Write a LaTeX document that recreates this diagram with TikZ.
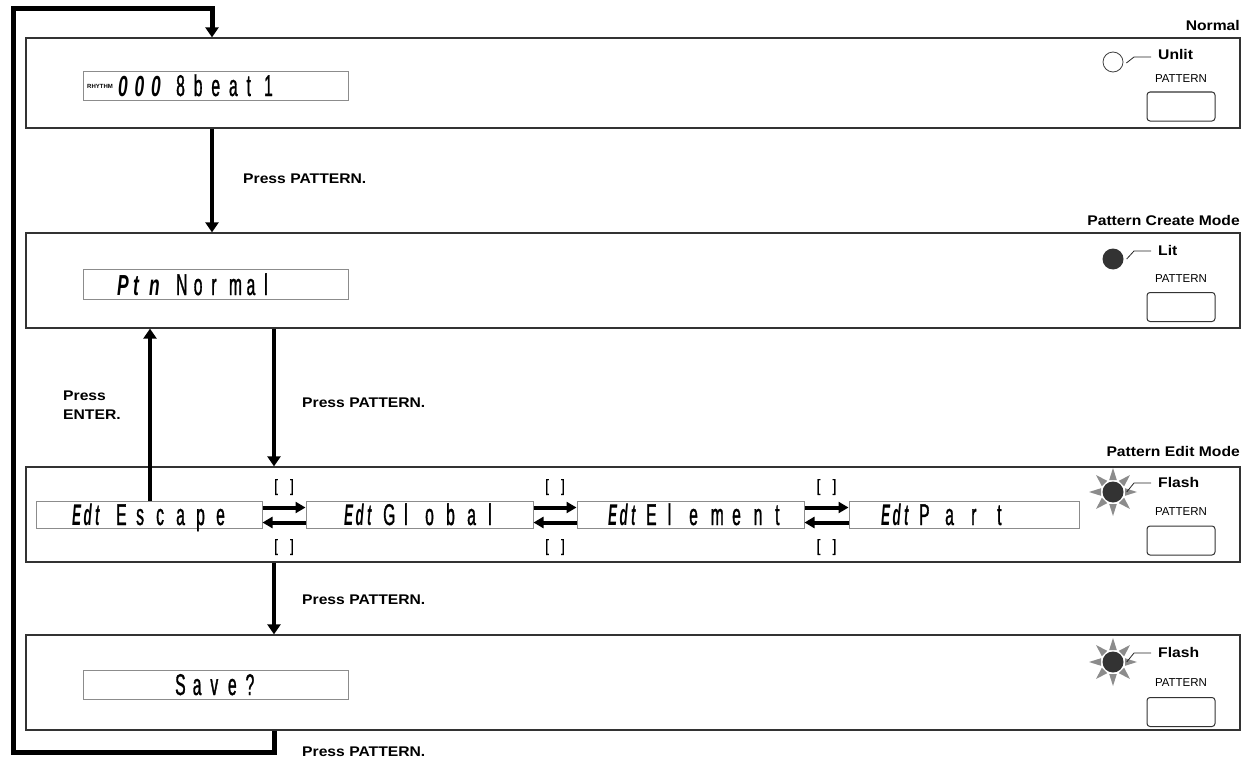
\documentclass[tikz,border=0pt]{standalone}
\usepackage{fontspec}
\setmainfont{Liberation Sans}
\newfontfamily\lblfont[FakeStretch=1.12]{Liberation Sans}
\newfontfamily\lcdfont[FakeStretch=0.52,FakeBold=1]{Liberation Sans}
\newfontfamily\segnarrow[FakeStretch=0.45]{Liberation Sans}
\newfontfamily\segwide[FakeStretch=0.6]{Liberation Sans}
\newfontfamily\brkfont[FakeStretch=0.8,FakeBold=1]{Liberation Sans}
\usetikzlibrary{arrows.meta}
\newcommand\lcdcells[2]{\def\lcdpitch{#1}\lcdloop#2\relax}
\def\lcdloop#1{\ifx\relax#1\else\makebox[\lcdpitch pt][l]{#1}\expandafter\lcdloop\fi}
\definecolor{ledfill}{HTML}{333333}
\definecolor{raygray}{HTML}{8C8C8C}
\tikzset{
  panel/.style={draw=black!80, line width=1.3pt, minimum width=1214pt, inner sep=0pt},
  lcdbox/.style={draw=black!45, line width=1pt, inner sep=0pt},
  lcdtxt/.style={anchor=base west, inner sep=0pt, font=\lcdfont\fontsize{30}{32}\selectfont},
  segtxt/.style={anchor=base west, inner sep=0pt, font=\segnarrow\bfseries\itshape\fontsize{30}{32}\selectfont},
  segwtxt/.style={anchor=base west, inner sep=0pt, font=\segwide\bfseries\itshape\fontsize{29}{32}\selectfont},
  lbl/.style={font=\lblfont\bfseries\fontsize{14}{19}\selectfont, inner sep=0pt},
  small/.style={font=\fontsize{11.5}{13}\selectfont, inner sep=0pt},
  brk/.style={font=\brkfont\fontsize{17}{18}\selectfont, inner sep=0pt},
  flow/.style={line width=4.5pt, -{Triangle[width=13pt,length=10pt]}},
  loopline/.style={line width=5pt, line join=miter, -{Triangle[width=13pt,length=10pt]}},
  swaparr/.style={line width=4pt, -{Triangle[width=11pt,length=10pt]}},
  button/.style={draw=black!80, line width=1pt, rounded corners=3pt, minimum width=68pt, minimum height=29pt, inner sep=0pt},
  ledoff/.style={circle, draw=black!75, fill=white, line width=0.8pt, minimum size=20pt, inner sep=0pt},
  ledon/.style={circle, fill=ledfill, minimum size=21pt, inner sep=0pt},
  leader/.style={line width=0.8pt, black!85},
}
\begin{document}
\begin{tikzpicture}[x=1pt,y=-1pt]
\useasboundingbox (0,0) rectangle (1248,760);

% panels
\node[panel, minimum height=90pt] (p1) at (633,83) {};
\node[panel, minimum height=95pt] (p2) at (633,280.5) {};
\node[panel, minimum height=95pt] (p3) at (633,514.5) {};
\node[panel, minimum height=95pt] (p4) at (633,682.5) {};

% mode labels
\node[lbl, anchor=east] (m1) at (1240,25) {Normal};
\node[lbl, anchor=east] (m2) at (1240,220) {Pattern Create Mode};
\node[lbl, anchor=east] (m3) at (1240,451) {Pattern Edit Mode};

% LCD boxes
\node[lcdbox, minimum width=265pt, minimum height=28pt] (lcd1) at (215.5,86) {};
\node[lcdbox, minimum width=265pt, minimum height=30pt] (lcd2) at (215.5,284) {};
\node[lcdbox, minimum width=265pt, minimum height=29pt] (lcd4) at (215.5,684.5) {};
\node[lcdbox, minimum width=226pt, minimum height=27pt] (esc) at (149,514.5) {};
\node[lcdbox, minimum width=227pt, minimum height=27pt] (glob) at (419.5,514.5) {};
\node[lcdbox, minimum width=227pt, minimum height=27pt] (elem) at (690.5,514.5) {};
\node[lcdbox, minimum width=230pt, minimum height=27pt] (part) at (964,514.5) {};

% LCD texts
\node[font=\bfseries\fontsize{6}{6}\selectfont, inner sep=0pt, anchor=west] (rh) at (87,86) {RHYTHM};
\node[segwtxt] (n000) at (118,96) {\lcdcells{16.5}{000}};
\node[lcdtxt] (t1) at (176,96) {\lcdcells{17.6}{8beat1}};
\node[segwtxt] (ptn) at (117,295) {\lcdcells{16}{Ptn}};
\node[lcdtxt] (t2) at (176,295) {\lcdcells{17.6}{Normal}};
\node[lcdtxt] (t4) at (175,695) {\lcdcells{17.6}{Save?}};

\node[segtxt] (e1) at (72,525) {\lcdcells{11.5}{Edt}};
\node[lcdtxt] (w1) at (116,525) {\lcdcells{20}{Escape}};
\node[segtxt] (e2) at (344,525) {\lcdcells{11.5}{Edt}};
\node[lcdtxt] (w2) at (383,525) {\lcdcells{21}{Global}};
\node[segtxt] (e3) at (608,525) {\lcdcells{11.5}{Edt}};
\node[lcdtxt] (w3) at (646,525) {\lcdcells{21.5}{Element}};
\node[segtxt] (e4) at (881,525) {\lcdcells{11.5}{Edt}};
\node[lcdtxt] (w4) at (919,525) {\lcdcells{26}{Part}};

% brackets
\node[brk] (b1) at (284,487) {[\hspace{12pt}]};
\node[brk] (b2) at (284,547) {[\hspace{12pt}]};
\node[brk] (b3) at (555,487) {[\hspace{12pt}]};
\node[brk] (b4) at (555,547) {[\hspace{12pt}]};
\node[brk] (b5) at (826.5,487) {[\hspace{12pt}]};
\node[brk] (b6) at (826.5,547) {[\hspace{12pt}]};

% swap arrows
\draw[swaparr] ([yshift=7pt]esc.east) -- ([yshift=7pt]glob.west);
\draw[swaparr] ([yshift=-8pt]glob.west) -- ([yshift=-8pt]esc.east);
\draw[swaparr] ([yshift=7pt]glob.east) -- ([yshift=7pt]elem.west);
\draw[swaparr] ([yshift=-8pt]elem.west) -- ([yshift=-8pt]glob.east);
\draw[swaparr] ([yshift=7pt]elem.east) -- ([yshift=7pt]part.west);
\draw[swaparr] ([yshift=-8pt]part.west) -- ([yshift=-8pt]elem.east);

% flow arrows
\coordinate (xa) at (212,0);
\coordinate (xb) at (274,0);
\coordinate (xe) at (150,0);
\coordinate (lb) at (13,752);
\coordinate (lt) at (13,9);
\draw[flow] (p1.south -| xa) -- (p2.north -| xa);
\draw[flow] (p2.south -| xb) -- (p3.north -| xb);
\draw[flow] (esc.north -| xe) -- (p2.south -| xe);
\draw[flow] (p3.south -| xb) -- (p4.north -| xb);
\draw[loopline] (p4.south -| xb) |- (lb) -- (lt) -| (p1.north -| xa);

% press labels
\node[lbl, anchor=west] (lp1) at (243,179) {Press PATTERN.};
\node[lbl, anchor=west] (lp2) at (302,403) {Press PATTERN.};
\node[lbl, anchor=west] (lp3) at (302,600) {Press PATTERN.};
\node[lbl, anchor=west] (lp4) at (302,752) {Press PATTERN.};
\node[lbl, anchor=west, align=left] (le) at (63,405.5) {Press\\ENTER.};

% panel 1 controls
\node[ledoff] (led1) at (1113,62) {};
\node[lbl, anchor=west] (s1) at (1158,54) {Unlit};
\draw[leader] ([xshift=3pt,yshift=-1pt]led1.east) -- ([xshift=-24pt,yshift=-3pt]s1.west) -- ([xshift=-7pt,yshift=-3pt]s1.west);
\node[small] (pt1) at (1181,79) {PATTERN};
\node[button] (bt1) at (1181,106.5) {};

% panel 2 controls
\node[ledon] (led2) at (1113,259) {};
\node[lbl, anchor=west] (s2) at (1158,250) {Lit};
\draw[leader] ([xshift=3pt]led2.east) -- ([xshift=-24pt,yshift=-1pt]s2.west) -- ([xshift=-7pt,yshift=-1pt]s2.west);
\node[small] (pt2) at (1181,279) {PATTERN};
\node[button] (bt2) at (1181,307) {};

% panel 3 controls
\foreach \a in {0,45,...,315} {
  \fill[raygray, shift={(1113,492)}, rotate=\a] (12,3.8) -- (24,0) -- (12,-3.8) -- cycle;
}
\node[ledon] (led3) at (1113,492) {};
\node[lbl, anchor=west] (s3) at (1158,482) {Flash};
\draw[leader] ([xshift=3pt]led3.east) -- ([xshift=-24pt,yshift=-1pt]s3.west) -- ([xshift=-7pt,yshift=-1pt]s3.west);
\node[small] (pt3) at (1181,512) {PATTERN};
\node[button] (bt3) at (1181,540.5) {};

% panel 4 controls
\foreach \a in {0,45,...,315} {
  \fill[raygray, shift={(1113,662)}, rotate=\a] (12,3.8) -- (24,0) -- (12,-3.8) -- cycle;
}
\node[ledon] (led4) at (1113,662) {};
\node[lbl, anchor=west] (s4) at (1158,652) {Flash};
\draw[leader] ([xshift=3pt]led4.east) -- ([xshift=-24pt,yshift=-1pt]s4.west) -- ([xshift=-7pt,yshift=-1pt]s4.west);
\node[small] (pt4) at (1181,683) {PATTERN};
\node[button] (bt4) at (1181,712) {};
\end{tikzpicture}
\end{document}
